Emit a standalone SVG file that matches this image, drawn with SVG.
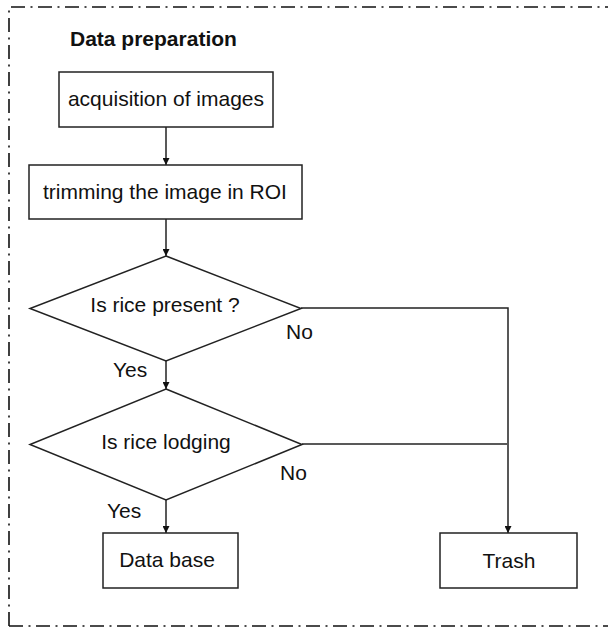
<svg xmlns="http://www.w3.org/2000/svg" width="608" height="628" viewBox="0 0 608 628">
  <defs>
    <marker id="arrow" viewBox="0 0 10 10" refX="10" refY="5" markerWidth="7" markerHeight="7" markerUnits="userSpaceOnUse" orient="auto">
      <path d="M0,0 L10,5 L0,10 z" fill="#111"/>
    </marker>
    <style>
      .frame { fill: none; stroke: #111; stroke-width: 1.6; stroke-dasharray: 14 5.5 2 5.5; }
      .shape { fill: #fff; stroke: #222; stroke-width: 1.5; }
      .wire { fill: none; stroke: #222; stroke-width: 1.5; }
      .label { font-family: "Liberation Sans", Arial, sans-serif; font-size: 21px; fill: #111; }
      .title { font-family: "Liberation Sans", Arial, sans-serif; font-size: 21px; font-weight: bold; fill: #111; }
    </style>
  </defs>

  <rect width="608" height="628" fill="#fff"/>

  <!-- dash-dot frame around the stage -->
  <path class="frame" d="M9,626 L9,7 L612,7 M9,626 L612,626"/>
  <text class="title" x="70" y="46">Data preparation</text>

  <!-- connectors -->
  <g id="connectors">
    <path class="wire" d="M166,127 L166,165" marker-end="url(#arrow)"/>
    <path class="wire" d="M166,219 L166,256" marker-end="url(#arrow)"/>
    <path class="wire" d="M166,361 L166,389" marker-end="url(#arrow)"/>
    <path class="wire" d="M166,500 L166,533" marker-end="url(#arrow)"/>
    <path class="wire" d="M301,308 L508,308 L508,533" marker-end="url(#arrow)"/>
    <path class="wire" d="M302,444 L507,444"/>
    <text class="label" x="286" y="339">No</text>
    <text class="label" x="113" y="377">Yes</text>
    <text class="label" x="280" y="480">No</text>
    <text class="label" x="107" y="518">Yes</text>
  </g>

  <g id="acquisition">
    <rect class="shape" x="59" y="72" width="214" height="55"/>
    <text class="label" x="166" y="106" text-anchor="middle">acquisition of images</text>
  </g>

  <g id="trimming">
    <rect class="shape" x="29" y="165" width="273" height="54"/>
    <text class="label" x="165" y="199" text-anchor="middle">trimming the image in ROI</text>
  </g>

  <g id="rice-present">
    <polygon class="shape" points="166,256 301,308.5 166,361 30,308.5"/>
    <text class="label" x="165" y="312" text-anchor="middle">Is rice present ?</text>
  </g>

  <g id="rice-lodging">
    <polygon class="shape" points="166,389 302,444.5 166,500 30,444.5"/>
    <text class="label" x="166" y="449" text-anchor="middle">Is rice lodging</text>
  </g>

  <g id="database">
    <rect class="shape" x="103" y="533" width="135" height="55"/>
    <text class="label" x="167" y="567" text-anchor="middle">Data base</text>
  </g>

  <g id="trash">
    <rect class="shape" x="440" y="533" width="137" height="55"/>
    <text class="label" x="509" y="568" text-anchor="middle">Trash</text>
  </g>
</svg>
